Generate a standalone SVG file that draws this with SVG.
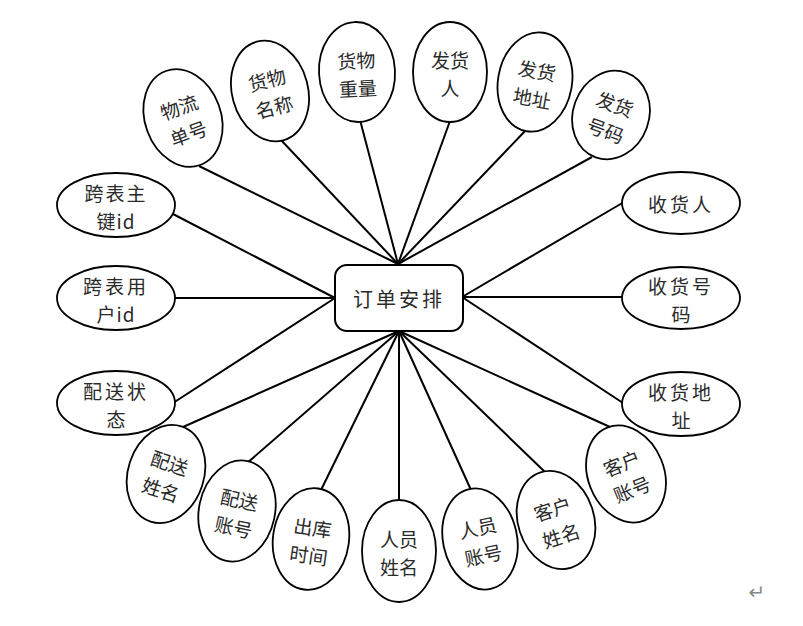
<svg xmlns="http://www.w3.org/2000/svg" width="803" height="626" viewBox="0 0 803 626">
<style>
.n ellipse{fill:#fff;stroke:#000;stroke-width:1.8}
.n text,.c text{font-family:"Noto Sans CJK SC","Noto Sans",sans-serif;font-size:19px;fill:#2a2a2a;text-anchor:middle;dominant-baseline:central}
.c text{font-size:20px}
#connectors line{stroke:#000;stroke-width:2}
</style>
<rect width="803" height="626" fill="#fff"/>
<g id="connectors">
<line x1="199" y1="166" x2="398" y2="264"/>
<line x1="281" y1="140" x2="398" y2="264"/>
<line x1="360" y1="120" x2="398" y2="264"/>
<line x1="450" y1="121" x2="398" y2="264"/>
<line x1="526" y1="130" x2="398" y2="264"/>
<line x1="592" y1="157" x2="398" y2="264"/>
<line x1="624" y1="202" x2="462" y2="297"/>
<line x1="624" y1="297" x2="462" y2="297"/>
<line x1="623" y1="403" x2="462" y2="297"/>
<line x1="173" y1="214" x2="335" y2="298"/>
<line x1="173" y1="298" x2="335" y2="298"/>
<line x1="173" y1="403" x2="335" y2="298"/>
<line x1="183" y1="427" x2="399" y2="331"/>
<line x1="246" y1="464" x2="399" y2="331"/>
<line x1="321" y1="490" x2="399" y2="331"/>
<line x1="399" y1="502" x2="399" y2="331"/>
<line x1="471" y1="490" x2="399" y2="331"/>
<line x1="545" y1="472" x2="399" y2="331"/>
<line x1="610" y1="427" x2="399" y2="331"/>
</g>
<g id="center" class="c">
<rect x="335" y="265" width="128" height="66" rx="12" fill="#fff" stroke="#000" stroke-width="2"/>
<text x="399" y="298" letter-spacing="3">订单安排</text>
</g>
<g id="n1" class="n" transform="translate(183,118) rotate(-20)"><ellipse rx="38" ry="50"/><text><tspan x="0" y="-13">物流</tspan><tspan x="0" y="15">单号</tspan></text></g>
<g id="n2" class="n" transform="translate(270,91) rotate(-15)"><ellipse rx="38" ry="51"/><text><tspan x="0" y="-13">货物</tspan><tspan x="0" y="15">名称</tspan></text></g>
<g id="n3" class="n" transform="translate(357,72) rotate(-3)"><ellipse rx="38" ry="50"/><text><tspan x="0" y="-13">货物</tspan><tspan x="0" y="15">重量</tspan></text></g>
<g id="n4" class="n" transform="translate(450,72)"><ellipse rx="37" ry="50"/><text><tspan x="0" y="-13">发货</tspan><tspan x="0" y="15">人</tspan></text></g>
<g id="n5" class="n" transform="translate(535,82) rotate(10)"><ellipse rx="37" ry="50"/><text><tspan x="0" y="-13">发货</tspan><tspan x="0" y="15">地址</tspan></text></g>
<g id="n6" class="n" transform="translate(611,115) rotate(20)"><ellipse rx="38" ry="45"/><text><tspan x="0" y="-13">发货</tspan><tspan x="0" y="15">号码</tspan></text></g>
<g id="n7" class="n" transform="translate(681,203)"><ellipse rx="59" ry="31"/><text letter-spacing="3">收货人</text></g>
<g id="n8" class="n" transform="translate(681,298)"><ellipse rx="59" ry="31"/><text><tspan x="0" y="-13" letter-spacing="3">收货号</tspan><tspan x="0" y="15" letter-spacing="0">码</tspan></text></g>
<g id="n9" class="n" transform="translate(681,404)"><ellipse rx="59" ry="32"/><text><tspan x="0" y="-13" letter-spacing="3">收货地</tspan><tspan x="0" y="15" letter-spacing="0">址</tspan></text></g>
<g id="n10" class="n" transform="translate(116,205)"><ellipse rx="59" ry="32"/><text><tspan x="0" y="-13" letter-spacing="2">跨表主</tspan><tspan x="0" y="15" letter-spacing="1">键id</tspan></text></g>
<g id="n11" class="n" transform="translate(116,298)"><ellipse rx="59" ry="32"/><text><tspan x="0" y="-13" letter-spacing="3">跨表用</tspan><tspan x="0" y="15" letter-spacing="1">户id</tspan></text></g>
<g id="n12" class="n" transform="translate(116,403)"><ellipse rx="59" ry="32"/><text><tspan x="0" y="-13" letter-spacing="3">配送状</tspan><tspan x="0" y="15" letter-spacing="0">态</tspan></text></g>
<g id="n13" class="n" transform="translate(166,474) rotate(18)"><ellipse rx="38" ry="50"/><text><tspan x="0" y="-13">配送</tspan><tspan x="0" y="15">姓名</tspan></text></g>
<g id="n14" class="n" transform="translate(237,511) rotate(12)"><ellipse rx="38" ry="51"/><text><tspan x="0" y="-13">配送</tspan><tspan x="0" y="15">账号</tspan></text></g>
<g id="n15" class="n" transform="translate(311,539) rotate(8)"><ellipse rx="38" ry="51"/><text><tspan x="0" y="-13">出库</tspan><tspan x="0" y="15">时间</tspan></text></g>
<g id="n16" class="n" transform="translate(399,551)"><ellipse rx="37" ry="51"/><text><tspan x="0" y="-13">人员</tspan><tspan x="0" y="15">姓名</tspan></text></g>
<g id="n17" class="n" transform="translate(480,539) rotate(-12)"><ellipse rx="37" ry="51"/><text><tspan x="0" y="-13">人员</tspan><tspan x="0" y="15">账号</tspan></text></g>
<g id="n18" class="n" transform="translate(556,520) rotate(-18)"><ellipse rx="38" ry="50"/><text><tspan x="0" y="-13">客户</tspan><tspan x="0" y="15">姓名</tspan></text></g>
<g id="n19" class="n" transform="translate(626,474) rotate(-22)"><ellipse rx="38" ry="50"/><text><tspan x="0" y="-13">客户</tspan><tspan x="0" y="15">账号</tspan></text></g>
<text x="757" y="592" font-family="'DejaVu Sans',sans-serif" font-size="20" fill="#888" text-anchor="middle" dominant-baseline="central">↵</text>
</svg>
